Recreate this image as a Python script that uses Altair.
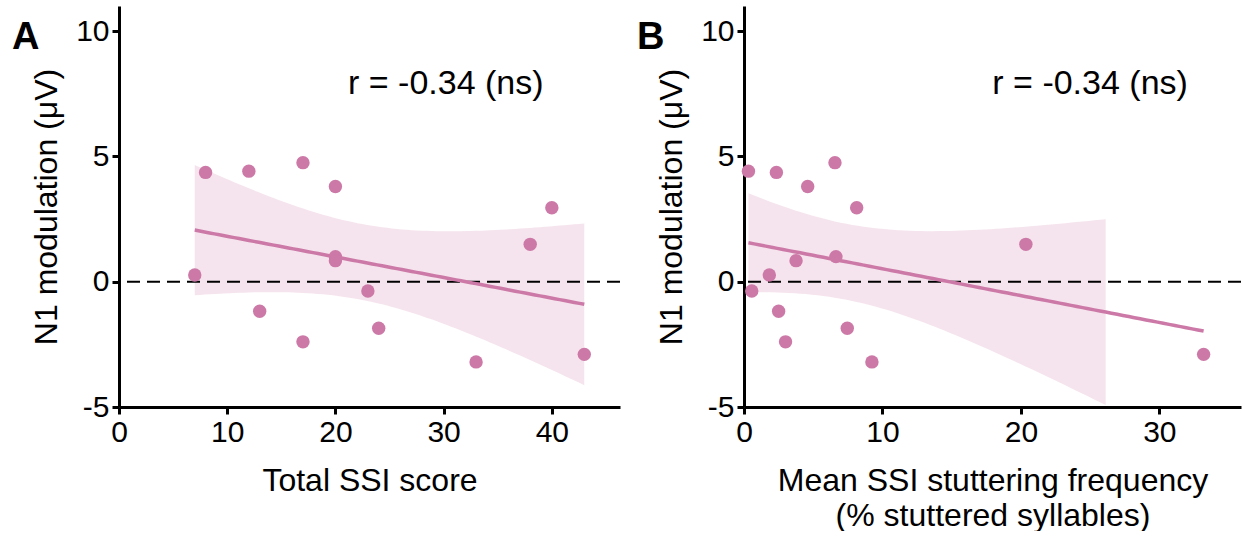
import altair as alt
import numpy as np
import pandas as pd

# ---- data ----
ssi_total = [7, 8, 12, 17, 20, 20, 20, 13, 17, 23, 24, 33, 38, 40, 43]
ssi_freq = [1.83, 2.34, 0.32, 6.57, 4.6, 6.64, 3.76, 2.5, 3.0, 0.56, 7.46, 9.24, 20.36, 8.14, 33.2]
n1_mod = [0.27, 4.36, 4.41, 4.75, 3.8, 1.0, 0.84, -1.18, -2.4, -0.37, -1.86, -3.2, 1.49, 2.95, -2.9]

y_ticks = [-5, 0, 5, 10]
xa_ticks = [0, 10, 20, 30, 40]
xb_ticks = [0, 10, 20, 30]
r_label = "r = -0.34 (ns)"

Y_DOM = [-5, 11]
PINK = "#CC79A7"
FONT = "Liberation Sans"


def lm_band(x, y, ylo, yhi):
    x = np.asarray(x, float)
    y = np.asarray(y, float)
    n = len(x)
    xm = x.mean()
    sxx = ((x - xm) ** 2).sum()
    b1 = ((x - xm) * (y - y.mean())).sum() / sxx
    b0 = y.mean() - b1 * xm
    s = np.sqrt(((y - (b0 + b1 * x)) ** 2).sum() / (n - 2))
    t = 2.1604  # t(0.975, df=13)
    g = np.linspace(x.min(), x.max(), 80)
    f = b0 + b1 * g
    se = s * np.sqrt(1 / n + (g - xm) ** 2 / sxx)
    df = pd.DataFrame({"x": g, "fit": f, "lo": f - t * se, "hi": f + t * se})
    band = df[(df.lo >= ylo) & (df.hi <= yhi)]
    return df, band


def panel(xvals, xdom, xticks, xtitle, width, letter, rx):
    pts = pd.DataFrame({"x": xvals, "y": n1_mod})
    fit, band = lm_band(xvals, n1_mod, Y_DOM[0], Y_DOM[1])
    xs = alt.Scale(domain=xdom, nice=False, zero=False)
    ys = alt.Scale(domain=Y_DOM, nice=False, zero=False)
    xax = alt.Axis(values=xticks, title=xtitle, labelExpr="'' + datum.value",
                   labelFlush=False, titlePadding=18)
    yax = alt.Axis(values=y_ticks, title="N1 modulation (μV)",
                   labelExpr="'' + datum.value", titlePadding=12)

    area = alt.Chart(band).mark_area(color=PINK, opacity=0.2).encode(
        x=alt.X("x:Q", scale=xs, axis=xax),
        y=alt.Y("lo:Q", scale=ys, axis=yax),
        y2="hi:Q",
    )
    zero = alt.Chart(pd.DataFrame({"z": [0]})).mark_rule(
        color="black", strokeDash=[13, 7], strokeWidth=2
    ).encode(y=alt.Y("z:Q", scale=ys))
    line = alt.Chart(fit).mark_line(color=PINK, strokeWidth=3.5).encode(
        x=alt.X("x:Q", scale=xs), y=alt.Y("fit:Q", scale=ys)
    )
    dots = alt.Chart(pts).mark_circle(color=PINK, size=180, opacity=1).encode(
        x=alt.X("x:Q", scale=xs), y=alt.Y("y:Q", scale=ys)
    )
    rtext = alt.Chart(pd.DataFrame({"t": [r_label]})).mark_text(
        font=FONT, fontSize=34, color="black", align="center", baseline="middle"
    ).encode(x=alt.datum(rx, scale=xs), y=alt.datum(7.9, scale=ys), text="t:N")
    let = alt.Chart(pd.DataFrame({"t": [letter]})).mark_text(
        font=FONT, fontSize=38, fontWeight="bold", color="black",
        align="left", baseline="top"
    ).encode(x=alt.value(-107), y=alt.value(13), text="t:N")
    return alt.layer(area, zero, line, dots, rtext, let).properties(
        width=width, height=401
    )


a = panel(ssi_total, [0, 46.3], xa_ticks, "Total SSI score", 501, "A", 30.2)
b = panel(ssi_freq, [0, 35.9], xb_ticks,
          ["Mean SSI stuttering frequency", "(% stuttered syllables)"], 497, "B", 25.0)

chart = alt.hconcat(a, b, spacing=124, bounds="flush").properties(
    padding={"left": 12, "top": 6, "right": 0, "bottom": 0}
).configure_view(stroke=None).configure_axis(
    grid=False,
    domainColor="black", domainWidth=3,
    tickColor="black", tickWidth=3, tickSize=7,
    labelFont=FONT, labelFontSize=30, labelColor="black", labelPadding=3,
    titleFont=FONT, titleFontSize=32, titleColor="black", titleFontWeight="normal",
    titleLineHeight=35,
)

chart.save("out.html", embed_options={"renderer": "svg", "actions": False})
